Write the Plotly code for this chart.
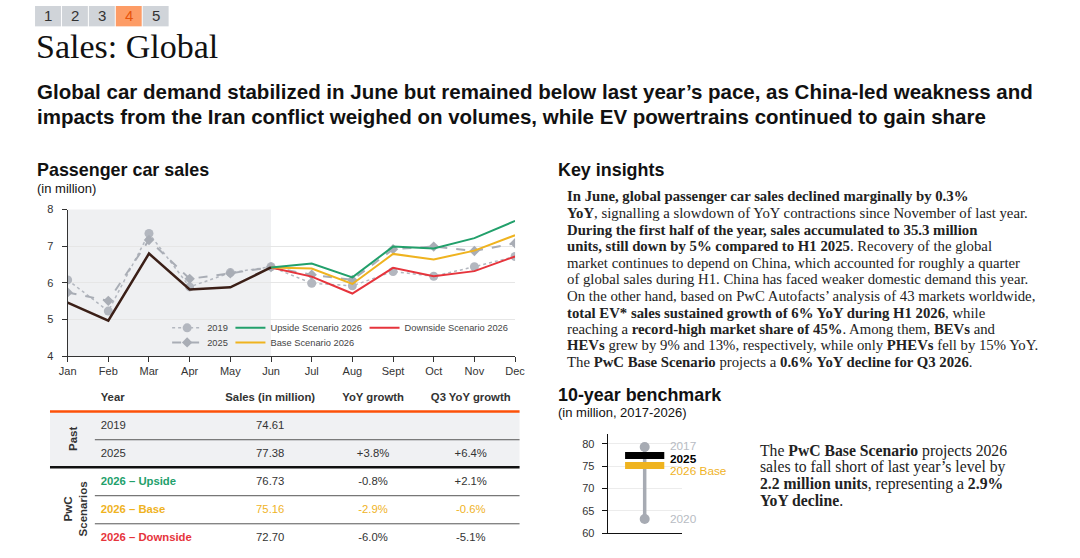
import plotly.graph_objects as go

# -----------------------------------------
# DATA
# -----------------------------------------
months = ["Jan", "Feb", "Mar", "Apr", "May", "Jun",
          "Jul", "Aug", "Sept", "Oct", "Nov", "Dec"]
sales_2019 = [6.08, 5.23, 7.35, 5.89, 6.28, 6.44, 5.99, 5.92, 6.31, 6.18, 6.44, 6.72]
sales_2025 = [5.74, 5.51, 7.17, 6.11, 6.26, 6.43, 6.22, 6.08, 6.92, 6.99, 6.87, 7.08]
sales_2026 = [5.46, 4.97, 6.80, 5.82, 5.88, 6.42]
upside_2026 = [6.53, 6.15, 6.99, 6.94, 7.22, 7.69]
base_2026 = [6.39, 5.97, 6.79, 6.64, 6.88, 7.30]
downside_2026 = [6.17, 5.71, 6.41, 6.18, 6.32, 6.72]

table_header = ["Year", "Sales (in million)", "YoY growth", "Q3 YoY growth"]
table_years = ["2019", "2025", "2026 – Upside", "2026 – Base", "2026 – Downside"]
table_sales = [74.61, 77.38, 76.73, 75.16, 72.70]
table_yoy = ["", "+3.8%", "-0.8%", "-2.9%", "-6.0%"]
table_q3 = ["", "+6.4%", "+2.1%", "-0.6%", "-5.1%"]

bench_labels = ["2017", "2020"]
bench_range = [79.3, 63.2]
bench_2025 = 77.38
bench_2026_base = 75.16

tabs = ["1", "2", "3", "4", "5"]
active_tab = "4"

insight_lines = [
    "<b>In June, global passenger car sales declined marginally by 0.3%</b>",
    "<b>YoY</b>, signalling a slowdown of YoY contractions since November of last year.",
    "<b>During the first half of the year, sales accumulated to 35.3 million</b>",
    "<b>units, still down by 5% compared to H1 2025</b>. Recovery of the global",
    "market continues to depend on China, which accounted for roughly a quarter",
    "of global sales during H1. China has faced weaker domestic demand this year.",
    "On the other hand, based on PwC Autofacts’ analysis of 43 markets worldwide,",
    "<b>total EV* sales sustained growth of 6% YoY during H1 2026</b>, while",
    "reaching a <b>record-high market share of 45%</b>. Among them, <b>BEVs</b> and",
    "<b>HEVs</b> grew by 9% and 13%, respectively, while only <b>PHEVs</b> fell by 15% YoY.",
    "The <b>PwC Base Scenario</b> projects a <b>0.6% YoY decline for Q3 2026</b>.",
]
bench_lines = [
    "The <b>PwC Base Scenario</b> projects 2026",
    "sales to fall short of last year’s level by",
    "<b>2.2 million units</b>, representing a <b>2.9%</b>",
    "<b>YoY decline</b>.",
]

# -----------------------------------------
# SETTINGS
# -----------------------------------------
W, H = 1080, 558
# the photographed page shows the figure inset by ~8px and slightly shrunk,
# so positions below are given in picture pixels and mapped back here
SX, SY = 1080 / 1096, 558 / 574
OX, OY = 8 * SX, 8 * SY
SANS = "Liberation Sans, Arial, sans-serif"
SERIF = "Georgia, Liberation Serif, serif"
DARK = "#333333"
GREEN = "#22a06b"
YELLOW = "#efb31f"
RED = "#e6343c"
GREY_LINE = "#b3b7bf"
ORANGE = "#fd5108"


def px(x):
    return (x - OX) / SX / W


def py(y):
    return 1 - (y - OY) / SY / H


fig = go.Figure()
annotations = []
shapes = []


def add_text(x, y, text, size=12, color=DARK, family=SANS, xanchor="left", angle=0):
    annotations.append(dict(
        x=px(x), y=py(y), xref="paper", yref="paper", text=text, showarrow=False,
        xanchor=xanchor, yanchor="middle", textangle=angle,
        font=dict(size=size, color=color, family=family)))


def hline(x0, x1, y, color, width):
    shapes.append(dict(type="line", xref="paper", yref="paper",
                       x0=px(x0), x1=px(x1), y0=py(y), y1=py(y),
                       line=dict(color=color, width=width)))


# -----------------------------------------
# Main chart — passenger car sales
# -----------------------------------------
n_act = len(sales_2026)
pad = [None] * (n_act - 1)
jun = sales_2026[-1]

fig.add_trace(go.Scatter(
    x=months, y=sales_2019, name="2019", mode="lines+markers",
    line=dict(color=GREY_LINE, width=1.5, dash="dot"),
    marker=dict(symbol="circle", size=9, color=GREY_LINE), legend="legend"))
fig.add_trace(go.Scatter(
    x=months, y=sales_2025, name="2025", mode="lines+markers",
    line=dict(color="#a9adb5", width=2, dash="dash"),
    marker=dict(symbol="diamond", size=8, color="#a9adb5"), legend="legend4"))
fig.add_trace(go.Scatter(
    x=months, y=pad + [jun] + downside_2026, name="Downside Scenario 2026", mode="lines",
    line=dict(color=RED, width=2), legend="legend3"))
fig.add_trace(go.Scatter(
    x=months, y=pad + [jun] + base_2026, name="Base Scenario 2026", mode="lines",
    line=dict(color=YELLOW, width=2), legend="legend5"))
fig.add_trace(go.Scatter(
    x=months, y=pad + [jun] + upside_2026, name="Upside Scenario 2026", mode="lines",
    line=dict(color=GREEN, width=2), legend="legend2"))
fig.add_trace(go.Scatter(
    x=months[:n_act], y=sales_2026, name="2026", mode="lines",
    line=dict(color="#3b1f17", width=2.5), showlegend=False))

# shaded actuals region Jan - Jun
shapes.append(dict(type="rect", xref="x", yref="y domain", x0=0, x1=n_act - 1,
                   y0=0, y1=1, fillcolor="#eff0f2", line=dict(width=0), layer="below"))

# -----------------------------------------
# Mini chart — 10-year benchmark
# -----------------------------------------
fig.add_trace(go.Scatter(
    x=[0, 0], y=bench_range, mode="lines+markers", xaxis="x2", yaxis="y2",
    line=dict(color="#a7abb3", width=3.5),
    marker=dict(size=10, color="#a7abb3"), showlegend=False))
fig.add_trace(go.Scatter(
    x=[0, 0], y=[bench_2025, bench_2026_base], mode="markers", xaxis="x2", yaxis="y2",
    marker=dict(symbol="line-ew", size=28, line=dict(width=7, color=["#000000", YELLOW])),
    showlegend=False))

bench_label_style = [
    (bench_labels[0], bench_range[0], "#b8bcc3", 1),
    ("<b>2025</b>", bench_2025, "#000000", -3),
    ("2026 Base", bench_2026_base, YELLOW, -5),
    (bench_labels[1], bench_range[1], "#b8bcc3", 0),
]
for txt, val, col, shift in bench_label_style:
    annotations.append(dict(
        x=0.62, y=val, xref="x2", yref="y2", text=txt, showarrow=False,
        xanchor="left", yanchor="middle", yshift=shift,
        font=dict(size=11.8, family=SANS, color=col)))

# -----------------------------------------
# Table (text placed on its own hidden axes)
# -----------------------------------------
rows = list(range(len(table_years) + 1))
year_colors = [DARK, DARK, DARK, GREEN, YELLOW, RED]
value_colors = [DARK, DARK, DARK, DARK, YELLOW, DARK]
year_text = [f"<b>{table_header[0]}</b>"] + table_years[:2] + [f"<b>{t}</b>" for t in table_years[2:]]
columns = [
    (0.108, "middle right", year_text, year_colors),
    (0.469, "middle center", [f"<b>{table_header[1]}</b>"] + [f"{v:.2f}" for v in table_sales], value_colors),
    (0.688, "middle center", [f"<b>{table_header[2]}</b>"] + table_yoy, value_colors),
    (0.896, "middle center", [f"<b>{table_header[3]}</b>"] + table_q3, value_colors),
]
for cx, pos, txt, cols in columns:
    fig.add_trace(go.Scatter(
        x=[cx] * len(rows), y=rows, text=txt, mode="text", textposition=pos,
        textfont=dict(size=11.3, family=SANS, color=cols), cliponaxis=False,
        xaxis="x3", yaxis="y3", showlegend=False, hoverinfo="skip"))

shapes.append(dict(type="rect", xref="paper", yref="paper", x0=px(49), x1=px(520),
                   y0=py(466), y1=py(411), fillcolor="#f0f1f3", line=dict(width=0), layer="below"))
hline(49, 520, 410.7, ORANGE, 2.5)
hline(49, 520, 466, "#111111", 2.5)
for yy in [438.7, 494.3, 522.2]:
    hline(94, 520, yy, "#555555", 1)
add_text(72, 438, "<b>Past</b>", size=11.5, xanchor="center", angle=-90)
add_text(75, 507, "<b>PwC<br>Scenarios</b>", size=11.5, xanchor="center", angle=-90)

# -----------------------------------------
# Tabs, titles and texts
# -----------------------------------------
for i, t in enumerate(tabs):
    x0 = 34 + i * 27
    active = t == active_tab
    shapes.append(dict(type="rect", xref="paper", yref="paper", x0=px(x0), x1=px(x0 + 26),
                       y0=py(28), y1=min(py(3), 1), line=dict(width=0),
                       fillcolor="#fd9c66" if active else "#d0d4d9"))
    add_text(x0 + 13, 17, t, size=15, color="#e8540c" if active else DARK, xanchor="center")

add_text(33, 48, "Sales: Global", size=34, color="#111111", family=SERIF)
add_text(34, 93, "<b>Global car demand stabilized in June but remained below last year’s pace, as China-led weakness and</b>",
         size=20.5, color="#111111")
add_text(34, 118, "<b>impacts from the Iran conflict weighed on volumes, while EV powertrains continued to gain share</b>",
         size=20.5, color="#111111")

add_text(34, 171, "<b>Passenger car sales</b>", size=17.9, color="#111111")
add_text(34, 189, "(in million)", size=13, color="#111111")
add_text(557, 171, "<b>Key insights</b>", size=17.9, color="#111111")
add_text(557, 394, "<b>10-year benchmark</b>", size=17.9, color="#111111")
add_text(557, 412, "(in million, 2017-2026)", size=13, color="#111111")

insight_y = [196.7, 213.3, 230, 246.7, 262.7, 279, 295.5, 312.5, 328.5, 344.5, 361]
for yy, line in zip(insight_y, insight_lines):
    add_text(566, yy, line, size=14.75, color="#222222", family=SERIF)
for i, line in enumerate(bench_lines):
    add_text(759, 450 + i * 16.2, line, size=15.7, color="#222222", family=SERIF)

# -----------------------------------------
# Layout
# -----------------------------------------
legend_base = dict(orientation="h", bgcolor="rgba(0,0,0,0)", xanchor="left", yanchor="middle",
                   font=dict(size=9.3, family=SANS, color="#444444"), xref="paper", yref="paper")
legend_pos = {"legend": (166.5, 327.5), "legend2": (230, 327.5), "legend3": (364.5, 327.5),
              "legend4": (166.5, 342), "legend5": (230, 342)}

axis_font = dict(size=11, family=SANS, color=DARK)
fig.update_layout(
    autosize=True,
    margin=dict(l=0, r=0, t=0, b=0),
    paper_bgcolor="white", plot_bgcolor="rgba(0,0,0,0)",
    showlegend=True,
    xaxis=dict(domain=[px(66.7), px(515.5)], type="category", range=[0, len(months) - 1],
               showline=True, linecolor=DARK, ticks="outside", ticklen=5, tickcolor=DARK,
               tickfont=axis_font, showgrid=False, fixedrange=True),
    yaxis=dict(domain=[py(355.7), py(210)], range=[4, 8], dtick=1,
               showline=True, linecolor=DARK, ticks="outside", ticklen=5, tickcolor=DARK,
               ticklabelstandoff=6, tickfont=axis_font, gridcolor="#e6e6e6", zeroline=False),
    xaxis2=dict(domain=[px(608.3), px(682.7)], range=[-1, 1], anchor="y2",
                showline=True, linecolor="#111111", showticklabels=False, ticks="",
                showgrid=False, zeroline=False),
    yaxis2=dict(domain=[py(531.7), py(433)], range=[60, 82.2], anchor="x2",
                tickvals=[60, 65, 70, 75, 80], showline=True, linecolor="#111111",
                ticks="outside", ticklen=5, tickcolor="#111111", ticklabelstandoff=5,
                tickfont=axis_font, gridcolor="#ececec", zeroline=False),
    xaxis3=dict(domain=[px(49), px(520)], range=[0, 1], anchor="y3", visible=False),
    yaxis3=dict(domain=[py(550.1), py(383.1)], range=[len(rows) - 0.5, -0.5], anchor="x3",
                visible=False),
    annotations=annotations,
    shapes=shapes,
)
for name, (lx, ly) in legend_pos.items():
    fig.update_layout({name: dict(legend_base, x=px(lx), y=py(ly))})

fig.write_html("out.html",
               config={"displayModeBar": False},
               default_width=f"{W}px;position:absolute;left:0;top:0",
               default_height=f"{H}px")
